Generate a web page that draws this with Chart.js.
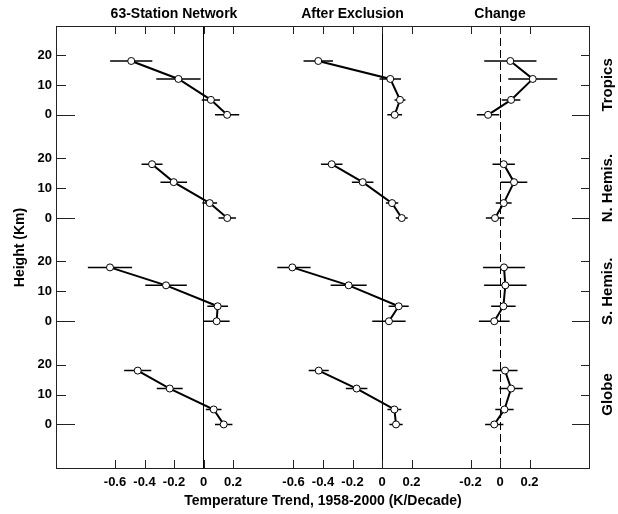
<!DOCTYPE html>
<html>
<head>
<meta charset="utf-8">
<title>Temperature trend profiles</title>
<script src="https://cdn.jsdelivr.net/npm/chart.js@4.4.0/dist/chart.umd.min.js"></script>
<style>
  body { margin: 0; background: #fff; }
  #wrap { width: 618px; height: 514px; }
</style>
</head>
<body>
<div id="wrap"><canvas id="profiles" width="618" height="514"></canvas></div>
<script>
// LEVELS (km)
var HEIGHTS = [0, 5, 12, 18];

// TICK LABELS
var TREND_TICKS = [-0.6, -0.4, -0.2, 0, 0.2];
var CHANGE_TICKS = [-0.2, 0, 0.2];
var HEIGHT_TICKS = [0, 10, 20];

var COLUMN_TITLES = ["63-Station Network", "After Exclusion", "Change"];
var ROW_LABELS = ["Tropics", "N. Hemis.", "S. Hemis.", "Globe"];
var X_TITLE = "Temperature Trend, 1958-2000 (K/Decade)";
var Y_TITLE = "Height (Km)";

// TRENDS (K/decade) at HEIGHTS + half width of error bar

// tropics
var tropicsNet = [0.16, 0.05, -0.17, -0.49];
var tropicsNetErr = [0.082, 0.062, 0.15, 0.143];
var tropicsExcl = [0.086, 0.122, 0.056, -0.432];
var tropicsExclErr = [0.05, 0.037, 0.073, 0.1];
var tropicsChange = [-0.081, 0.075, 0.222, 0.07];
var tropicsChangeErr = [0.076, 0.063, 0.166, 0.177];

// northern hemisphere
var nhNet = [0.161, 0.042, -0.202, -0.349];
var nhNetErr = [0.059, 0.05, 0.09, 0.071];
var nhExcl = [0.134, 0.068, -0.131, -0.341];
var nhExclErr = [0.04, 0.042, 0.073, 0.073];
var nhChange = [-0.034, 0.025, 0.095, 0.025];
var nhChangeErr = [0.062, 0.054, 0.09, 0.076];

// southern hemisphere
var shNet = [0.089, 0.096, -0.254, -0.634];
var shNetErr = [0.088, 0.07, 0.141, 0.15];
var shExcl = [0.047, 0.113, -0.226, -0.608];
var shExclErr = [0.113, 0.068, 0.122, 0.124];
var shChange = [-0.039, 0.023, 0.036, 0.027];
var shChangeErr = [0.104, 0.083, 0.144, 0.142];

// globe
var globeNet = [0.137, 0.069, -0.229, -0.446];
var globeNetErr = [0.059, 0.053, 0.088, 0.092];
var globeExcl = [0.095, 0.084, -0.172, -0.429];
var globeExclErr = [0.045, 0.047, 0.073, 0.068];
var globeChange = [-0.039, 0.03, 0.075, 0.034];
var globeChangeErr = [0.062, 0.062, 0.079, 0.085];


var X_IDS = ["xNet", "xExcl", "xChange"];
var Y_IDS = ["yTrop", "yNH", "ySH", "yGlobe"];

var panels = [
  [tropicsNet, tropicsNetErr, tropicsExcl, tropicsExclErr, tropicsChange, tropicsChangeErr],
  [nhNet, nhNetErr, nhExcl, nhExclErr, nhChange, nhChangeErr],
  [shNet, shNetErr, shExcl, shExclErr, shChange, shChangeErr],
  [globeNet, globeNetErr, globeExcl, globeExclErr, globeChange, globeChangeErr],
];

var FONT = '"Liberation Sans", Arial, sans-serif';

// BUILD DATASETS
var datasets = [];
panels.forEach(function (row, r) {
  for (var c = 0; c < 3; c++) {
    var vals = row[c * 2];
    var errs = row[c * 2 + 1];

    datasets.push({
      data: HEIGHTS.map(function (h, i) { return { x: vals[i], y: h }; }),
      xAxisID: X_IDS[c],
      yAxisID: Y_IDS[r],
      showLine: true,
      borderColor: "#000",
      borderWidth: 2,
      pointRadius: 3.5,
      pointBackgroundColor: "#fff",
      pointBorderColor: "#000",
      pointBorderWidth: 1,
      order: 0,
    });

    // error bars -> segments split by null points
    var bars = [];
    HEIGHTS.forEach(function (h, i) {
      bars.push({ x: vals[i] - errs[i], y: h });
      bars.push({ x: vals[i] + errs[i], y: h });
      bars.push({ x: null, y: null });
    });
    datasets.push({
      data: bars,
      xAxisID: X_IDS[c],
      yAxisID: Y_IDS[r],
      showLine: true,
      spanGaps: false,
      borderColor: "#000",
      borderWidth: 1.5,
      pointRadius: 0,
      order: 1,
    });
  }
});

function tickFmt(v) {
  return v === 0 ? "0" : v.toFixed(1);
}

function xAxis(min, max, ticks, dashed) {
  return {
    type: "linear",
    position: "bottom",
    stack: "cols",
    stackWeight: max - min,
    min: min,
    max: max,
    afterBuildTicks: function (s) {
      s.ticks = ticks.map(function (v) { return { value: v }; });
    },
    afterFit: function (s) { s.height = 45; },
    grid: {
      drawTicks: false,
      lineWidth: 1,
      color: function (ctx) {
        return ctx.tick && ctx.tick.value === 0 ? "#000" : "rgba(0,0,0,0)";
      },
    },
    border: { display: false, dash: dashed ? [8, 4] : [] },
    ticks: {
      autoSkip: false,
      padding: 6,
      color: "#000",
      font: { family: FONT, size: 13, weight: "bold" },
      maxRotation: 0,
      callback: tickFmt,
    },
  };
}

function yAxis(min, max) {
  return {
    type: "linear",
    position: "left",
    stack: "rows",
    stackWeight: max - min,
    min: min,
    max: max,
    afterBuildTicks: function (s) {
      s.ticks = HEIGHT_TICKS.map(function (v) { return { value: v }; });
    },
    afterFit: function (s) { s.width = 56; },
    grid: { display: false, drawTicks: false },
    border: { display: false },
    ticks: {
      autoSkip: false,
      padding: 4,
      color: "#000",
      font: { family: FONT, size: 13, weight: "bold" },
      callback: function (v) { return String(v); },
    },
  };
}

// FRAME, INWARD TICKS AND TEXT
var framePlugin = {
  id: "frame",
  afterDraw: function (chart) {
    var ctx = chart.ctx;
    var a = chart.chartArea;
    ctx.save();

    ctx.strokeStyle = "#222";
    ctx.lineWidth = 1;
    ctx.strokeRect(a.left + 0.5, a.top + 0.5, a.right - a.left - 1, a.bottom - a.top - 1);

    ctx.beginPath();
    X_IDS.forEach(function (id) {
      var s = chart.scales[id];
      s.ticks.forEach(function (t) {
        var px = Math.round(s.getPixelForValue(t.value)) + 0.5;
        ctx.moveTo(px, a.bottom);
        ctx.lineTo(px, a.bottom - 9);
        ctx.moveTo(px, a.top);
        ctx.lineTo(px, a.top + 8);
      });
    });
    Y_IDS.forEach(function (id) {
      var s = chart.scales[id];
      s.ticks.forEach(function (t) {
        var py = Math.round(s.getPixelForValue(t.value)) + 0.5;
        ctx.moveTo(a.left, py);
        ctx.lineTo(a.left + (t.value === 0 ? 19 : 10), py);
        ctx.moveTo(a.right, py);
        ctx.lineTo(a.right - (t.value === 0 ? 18 : 9), py);
      });
    });
    ctx.stroke();

    ctx.fillStyle = "#000";
    ctx.textAlign = "center";
    ctx.textBaseline = "middle";

    // column titles centred over tick range
    ctx.font = "bold 14px " + FONT;
    X_IDS.forEach(function (id, c) {
      var s = chart.scales[id];
      var mid = (s.ticks[0].value + s.ticks[s.ticks.length - 1].value) / 2;
      ctx.fillText(COLUMN_TITLES[c], s.getPixelForValue(mid), 14);
    });

    // row labels on the right
    ctx.font = "bold 15px " + FONT;
    Y_IDS.forEach(function (id, r) {
      var s = chart.scales[id];
      ctx.save();
      ctx.translate(608, s.getPixelForValue(10));
      ctx.rotate(-Math.PI / 2);
      ctx.fillText(ROW_LABELS[r], 0, 0);
      ctx.restore();
    });

    // axis titles
    ctx.font = "bold 14px " + FONT;
    ctx.fillText(X_TITLE, (a.left + a.right) / 2, 501);
    ctx.save();
    ctx.translate(20, (a.top + a.bottom) / 2);
    ctx.rotate(-Math.PI / 2);
    ctx.fillText(Y_TITLE, 0, 0);
    ctx.restore();

    ctx.restore();
  },
};

new Chart(document.getElementById("profiles"), {
  type: "scatter",
  data: { datasets: datasets },
  options: {
    responsive: false,
    animation: false,
    devicePixelRatio: 1,
    layout: { padding: { top: 26, right: 28, left: 0, bottom: 0 } },
    plugins: {
      legend: { display: false },
      tooltip: { enabled: false },
    },
    scales: {
      xNet: xAxis(-1.0, 0.5, TREND_TICKS, false),
      xExcl: xAxis(-0.71, 0.4, TREND_TICKS, false),
      xChange: xAxis(-0.4, 0.61, CHANGE_TICKS, true),
      // left stack is laid out last-defined on top, so bottom row first
      yGlobe: yAxis(-14.9, 29.7),
      ySH: yAxis(-4.8, 29.7),
      yNH: yAxis(-4.8, 29.7),
      yTrop: yAxis(-4.8, 29.7),
    },
  },
  plugins: [framePlugin],
});
</script>
</body>
</html>
